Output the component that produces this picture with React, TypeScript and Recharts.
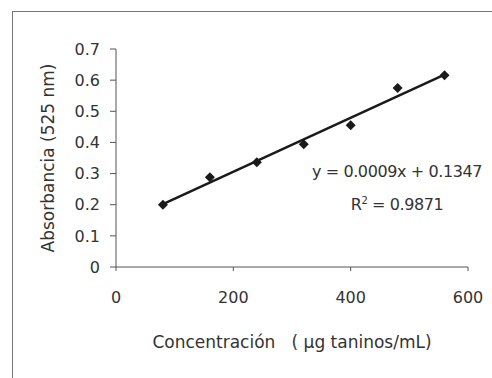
import React from "react";
import {
  ScatterChart,
  Scatter,
  XAxis,
  YAxis,
} from "recharts";

// Calibration points
const concentration = [80, 160, 240, 320, 400, 480, 560];
const absorbance = [0.2, 0.288, 0.336, 0.394, 0.455, 0.575, 0.616];

// Fitted line endpoints (as drawn)
const trendX = [80, 560];
const trendY = [0.202, 0.618];

const xTicks = [0, 200, 400, 600];
const yTicks = [0, 0.1, 0.2, 0.3, 0.4, 0.5, 0.6, 0.7];

const equation = "y = 0.0009x + 0.1347";
const rSquared = "0.9871";

const points = concentration.map((x, i) => ({ x, y: absorbance[i] }));
const trend = trendX.map((x, i) => ({ x, y: trendY[i] }));

const FONT = "'DejaVu Sans', sans-serif";
const TEXT = "#333";
const AXIS = "#555";

const Diamond = (props: any) => {
  const { cx, cy } = props;
  const r = 5;
  return (
    <polygon
      points={`${cx},${cy - r} ${cx + r},${cy} ${cx},${cy + r} ${cx - r},${cy}`}
      fill="#1a1a1a"
    />
  );
};

const NoShape = () => <g />;

export default function App() {
  return (
    <div style={{ position: "absolute", left: 0, top: 0, width: 492, height: 378, background: "#fff", fontFamily: FONT }}>
      {/* frame */}
      <div style={{ position: "absolute", left: 12, top: 11, right: 0, height: 0, borderTop: "1px solid #777" }} />
      <div style={{ position: "absolute", left: 12, top: 11, bottom: 0, width: 0, borderLeft: "1px solid #777" }} />

      <ScatterChart
        width={492}
        height={378}
        margin={{ top: 49, right: 24, bottom: 71, left: 0 }}
        style={{ position: "absolute", left: 0, top: 0 }}
      >
        <XAxis
          type="number"
          dataKey="x"
          domain={[0, 600]}
          ticks={xTicks}
          height={40}
          tickSize={4}
          tickMargin={21}
          stroke={AXIS}
          tick={{ fill: TEXT, fontSize: 16, fontFamily: FONT }}
          label={{
            value: "Concentración\u00a0\u00a0\u00a0( µg taninos/mL)",
            position: "bottom",
            offset: 29,
            fill: TEXT,
            fontSize: 17,
            fontFamily: FONT,
          }}
        />
        <YAxis
          type="number"
          dataKey="y"
          domain={[0, 0.7]}
          ticks={yTicks}
          width={116}
          tickSize={6}
          tickMargin={10}
          stroke={AXIS}
          tick={{ fill: TEXT, fontSize: 16, fontFamily: FONT }}
          tickFormatter={(v: number) => (v === 0 ? "0" : String(v))}
          label={{
            value: "Absorbancia (525 nm)",
            angle: -90,
            position: "insideLeft",
            offset: 48,
            fill: TEXT,
            fontSize: 17,
            fontFamily: FONT,
            style: { textAnchor: "middle" },
          }}
        />
        <Scatter
          data={trend}
          line={{ stroke: "#1a1a1a", strokeWidth: 2.5 }}
          shape={NoShape}
          isAnimationActive={false}
        />
        <Scatter data={points} shape={Diamond} isAnimationActive={false} />
      </ScatterChart>

      {/* regression annotation */}
      <div
        style={{
          position: "absolute",
          left: 297,
          width: 200,
          top: 162,
          textAlign: "center",
          fontSize: 16,
          color: TEXT,
          letterSpacing: -0.4,
          lineHeight: "20px",
        }}
      >
        {equation}
      </div>
      <div
        style={{
          position: "absolute",
          left: 297,
          width: 200,
          top: 195,
          textAlign: "center",
          fontSize: 16,
          color: TEXT,
          letterSpacing: -0.4,
          lineHeight: "20px",
        }}
      >
        R<sup style={{ fontSize: 10, lineHeight: 0 }}>2</sup> = {rSquared}
      </div>
    </div>
  );
}
